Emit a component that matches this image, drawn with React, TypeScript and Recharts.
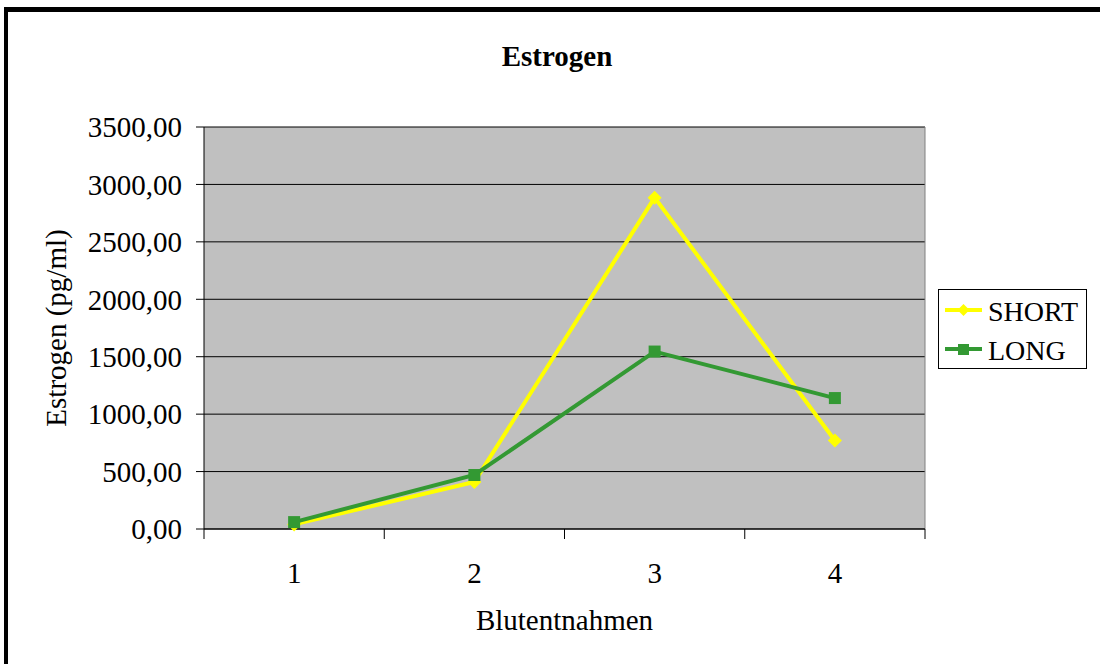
import React from 'react'
import {
  LineChart,
  Line,
  XAxis,
  YAxis,
  CartesianGrid,
  Legend,
  ReferenceLine,
} from 'recharts'

// Blutentnahmen (Probe 1..4)
const PROBEN = [1, 2, 3, 4]
const SHORT = [40, 410, 2885, 770]
const LONG = [60, 470, 1545, 1140]
const Y_TICKS = [0, 500, 1000, 1500, 2000, 2500, 3000, 3500]
// halbe Werte = Trennstriche, ganze Werte = Beschriftung
const X_TICKS = [0.5, 1, 1.5, 2, 2.5, 3, 3.5, 4, 4.5]

const FONT = "'Liberation Serif', 'Times New Roman', serif"
const GELB = '#ffff00'
const GRUEN = '#339933'

const daten = PROBEN.map((p, i) => ({ probe: p, SHORT: SHORT[i], LONG: LONG[i] }))

function XTick({ x, y, payload }: any) {
  const v = payload.value
  if (!Number.isInteger(v)) {
    return <line x1={x} x2={x} y1={y} y2={y + 10} stroke="#000" strokeWidth={1} />
  }
  return (
    <text x={x} y={y + 54} textAnchor="middle" fontSize={29} fontFamily={FONT} fill="#000">
      {v}
    </text>
  )
}

function Raute({ cx, cy, index }: any) {
  return (
    <path
      key={index}
      d={`M${cx},${cy - 7}L${cx + 7},${cy}L${cx},${cy + 7}L${cx - 7},${cy}Z`}
      fill={GELB}
    />
  )
}

function Quadrat({ cx, cy, index }: any) {
  return <rect key={index} x={cx - 6} y={cy - 6} width={12} height={12} fill={GRUEN} />
}

function Legende() {
  return (
    <svg width={147} height={78} style={{ display: 'block', background: '#fff', border: '1px solid #000' }}>
      <line x1={6} x2={43} y1={20} y2={20} stroke={GELB} strokeWidth={4} />
      <path d="M24.5,14L30.5,20L24.5,26L18.5,20Z" fill={GELB} />
      <text x={49} y={31} fontSize={28} fontFamily={FONT} fill="#000">SHORT</text>
      <line x1={6} x2={43} y1={59} y2={59} stroke={GRUEN} strokeWidth={4} />
      <rect x={19} y={54} width={11} height={11} fill={GRUEN} />
      <text x={49} y={70} fontSize={28} fontFamily={FONT} fill="#000">LONG</text>
    </svg>
  )
}

export default function App() {
  return (
    <div
      style={{
        position: 'absolute',
        left: 0,
        top: 0,
        width: 1100,
        height: 664,
        overflow: 'hidden',
        background: '#fff',
        fontFamily: FONT,
      }}
    >
      {/* Rahmen */}
      <div
        style={{
          position: 'absolute',
          left: 4,
          top: 7,
          width: 1200,
          height: 1000,
          borderLeft: '4px solid #000',
          borderTop: '5px solid #000',
        }}
      />
      <div
        style={{
          position: 'absolute',
          left: 457,
          top: 40,
          width: 200,
          textAlign: 'center',
          fontSize: 29,
          fontWeight: 'bold',
          lineHeight: '32px',
        }}
      >
        Estrogen
      </div>
      <div style={{ position: 'absolute', left: 0, top: 0 }}>
        <LineChart
          width={1100}
          height={664}
          data={daten}
          margin={{ top: 127, right: 26, left: 0, bottom: 0 }}
        >
          <CartesianGrid
            vertical={false}
            stroke="#000"
            strokeOpacity={1}
            fill="#c0c0c0"
            fillOpacity={1}
          />
          <ReferenceLine x={4.5} stroke="#808080" strokeWidth={1} />
          <XAxis
            dataKey="probe"
            type="number"
            domain={[0.5, 4.5]}
            ticks={X_TICKS}
            interval={0}
            height={135}
            tickSize={0}
            tickMargin={0}
            tickLine={false}
            axisLine={{ stroke: '#000' }}
            tick={<XTick />}
            label={{
              content: ({ viewBox }: any) => (
                <text
                  x={viewBox.x + viewBox.width / 2}
                  y={viewBox.y + 101}
                  textAnchor="middle"
                  fontSize={29}
                  fontFamily={FONT}
                  fill="#000"
                >
                  Blutentnahmen
                </text>
              ),
            }}
          />
          <YAxis
            width={204}
            domain={[0, 3500]}
            ticks={Y_TICKS}
            interval={0}
            tickSize={8}
            tickMargin={14}
            tickFormatter={(v: number) => v.toFixed(2).replace('.', ',')}
            tick={{ fontSize: 29, fontFamily: FONT, fill: '#000' }}
            tickLine={{ stroke: '#000' }}
            axisLine={{ stroke: '#000' }}
            label={{
              content: ({ viewBox }: any) => {
                const cy = viewBox.y + viewBox.height / 2
                return (
                  <text
                    x={56}
                    y={cy}
                    transform={`rotate(-90 56 ${cy})`}
                    textAnchor="middle"
                    dominantBaseline="central"
                    fontSize={29}
                    fontFamily={FONT}
                    fill="#000"
                  >
                    Estrogen (pg/ml)
                  </text>
                )
              },
            }}
          />
          <Legend
            layout="vertical"
            align="right"
            verticalAlign="middle"
            content={<Legende />}
            wrapperStyle={{ position: 'absolute', left: 938, top: 289, width: 149, height: 80 }}
          />
          <Line
            dataKey="SHORT"
            stroke={GELB}
            strokeWidth={4}
            dot={<Raute />}
            activeDot={false}
            isAnimationActive={false}
          />
          <Line
            dataKey="LONG"
            stroke={GRUEN}
            strokeWidth={4}
            dot={<Quadrat />}
            activeDot={false}
            isAnimationActive={false}
          />
        </LineChart>
      </div>
    </div>
  )
}
